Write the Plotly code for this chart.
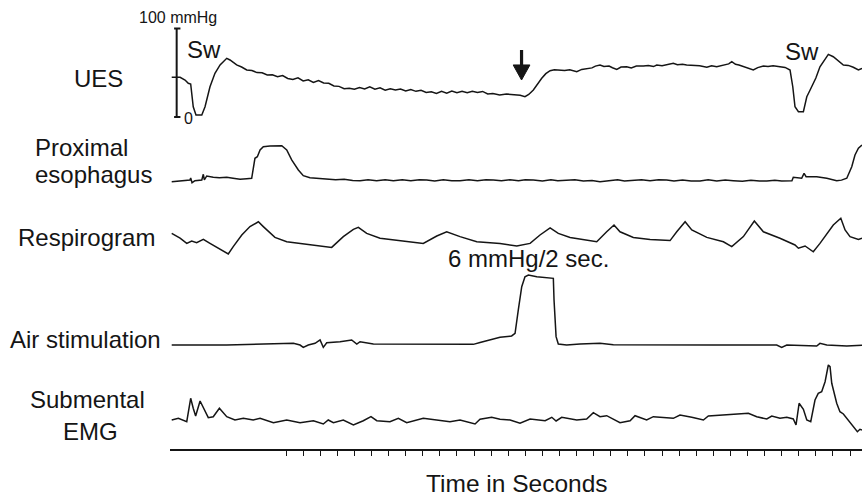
import plotly.graph_objects as go

# ---------------- data (time in seconds) ----------------
ues_t = [0.31, 0.80, 1.09, 1.28, 1.42, 1.57, 1.73, 2.07, 2.26, 2.55, 2.84, 3.14, 3.53, 3.72, 4.11, 4.4, 4.70,
         5.0, 5.3, 5.6, 5.9, 6.2, 6.5, 6.8, 7.1, 7.4, 7.7, 8.0, 8.3, 8.6, 8.9, 9.2, 9.5, 9.8, 10.1, 10.4, 10.7,
         11.0, 11.3, 11.6, 11.9, 12.2, 12.5, 12.8, 13.1, 13.4, 13.7, 14.0, 14.3, 14.6, 14.9, 15.2, 15.5, 15.8,
         16.1, 16.4, 16.7, 17.0, 17.3, 17.6, 17.9, 18.2, 18.5, 18.8, 19.1, 19.5, 19.9, 20.28, 20.7, 20.98, 21.2,
         21.47, 21.7, 21.96, 22.2, 22.45, 22.7, 23.03, 23.3, 23.6, 24.01, 24.3, 24.59, 24.9, 25.1, 25.37, 25.6,
         25.9, 26.1, 26.35, 26.6, 26.93, 27.2, 27.5, 27.91, 28.2, 28.5, 28.69, 29.0, 29.3, 29.66, 29.9, 30.2,
         30.44, 30.8, 31.2, 31.62, 31.9, 32.20, 32.6, 32.9, 33.08, 33.3, 33.5, 33.76, 34.0, 34.34, 34.6, 34.93,
         35.2, 35.5, 35.90, 36.2, 36.49, 36.65, 36.78, 36.98, 37.27, 37.47, 37.65, 37.85, 38.0, 38.24, 38.5,
         38.73, 39.02, 39.3, 39.61, 39.9, 40.19, 40.49, 40.70]
ues_mmhg = [44.9, 44.9, 41.8, 38.1, 37.3, 11.6, 2.3, 2.3, 11.6, 34.2, 49.4, 58.8, 66.3, 64.4, 58.8, 56.5, 53.1,
            52.5, 50.2, 50.0, 47.5, 47.8, 45.5, 46.8, 43.6, 42.5, 44.2, 40.8, 42.0, 39.0, 41.2, 38.5, 38.1, 35.0,
            34.6, 32.0, 32.6, 31.5, 33.4, 31.8, 34.0, 31.4, 32.9, 30.3, 32.0, 30.5, 31.5, 29.3, 31.0, 29.0, 30.2,
            27.8, 28.6, 26.7, 29.0, 27.0, 29.3, 27.5, 29.0, 27.4, 29.0, 27.8, 28.9, 26.0, 26.5, 24.9, 26.0, 25.6,
            24.5, 22.9, 25.5, 30.5, 37.0, 43.7, 49.0, 52.3, 53.3, 53.1, 52.5, 53.5, 51.2, 53.8, 55.0, 55.5, 57.5,
            58.8, 57.0, 57.5, 55.6, 53.8, 56.5, 56.8, 55.5, 57.5, 57.6, 58.3, 57.0, 58.8, 58.0, 59.5, 60.7, 59.0,
            59.5, 58.8, 58.8, 58.0, 56.2, 58.0, 56.8, 58.5, 60.0, 62.5, 59.5, 58.7, 56.8, 55.0, 53.1, 55.8, 57.6,
            57.0, 58.0, 56.8, 56.0, 53.1, 34.2, 11.6, 6.0, 6.0, 22.9, 30.0, 38.1, 44.0, 56.8, 64.0, 70.8, 68.1,
            63.5, 58.8, 58.3, 56.2, 53.1, 55.0]

prox_t = [0.31, 0.80, 1.38, 1.42, 1.50, 1.67, 2.07, 2.16, 2.22, 2.36, 2.74, 3.1, 3.53, 3.9, 4.31, 4.7, 4.99,
          5.18, 5.32, 5.48, 5.67, 6.06, 6.4, 6.75, 7.04, 7.33, 7.72, 8.01, 8.40, 8.9, 9.38, 9.9, 10.4, 10.9,
          11.33, 11.8, 12.3, 12.8, 13.28, 13.8, 14.3, 14.8, 15.23, 15.7, 16.2, 16.7, 17.18, 17.7, 18.2, 18.7,
          19.13, 19.6, 20.1, 20.6, 21.0, 21.47, 22.0, 22.5, 22.9, 23.42, 23.9, 24.4, 24.9, 25.37, 25.9, 26.4,
          26.8, 27.32, 27.8, 28.3, 28.8, 29.27, 29.7, 30.2, 30.7, 31.22, 31.7, 32.2, 32.7, 33.17, 33.7, 34.2,
          34.7, 35.13, 35.6, 36.0, 36.49, 36.6, 36.68, 37.17, 37.31, 37.43, 38.05, 38.64, 39.22, 39.5, 39.81,
          40.10, 40.29, 40.49, 40.70]
prox_mmhg = [3.7, 4.5, 5.7, 7.9, 2.6, 4.9, 5.7, 12.1, 5.7, 10.2, 8.7, 8.3, 8.7, 7.6, 6.4, 7.2, 7.6,
             30.2, 32.0, 39.6, 43.3, 44.1, 44.6, 44.4, 39.6, 28.3, 17.0, 10.5, 8.2, 7.5, 6.8, 5.9, 6.4, 5.0,
             4.9, 5.9, 4.7, 5.8, 4.9, 5.9, 4.8, 5.9, 5.7, 4.6, 5.8, 4.7, 4.9, 6.0, 4.8, 5.8,
             5.7, 4.7, 5.9, 4.8, 5.8, 5.7, 4.6, 5.8, 4.7, 4.9, 5.9, 4.5, 5.0, 3.7, 5.2, 5.8,
             4.6, 4.9, 6.0, 4.8, 5.9, 5.7, 4.6, 5.6, 4.5, 4.5, 5.8, 4.6, 5.6, 4.9, 4.3, 5.4,
             4.4, 4.5, 5.3, 4.4, 4.9, 4.8, 8.7, 7.6, 13.2, 9.4, 9.4, 7.6, 4.9, 5.5, 7.6,
             20.7, 33.9, 41.5, 45.2]

resp_t = [0.31, 0.80, 1.19, 1.48, 1.77, 2.16, 2.55, 3.14, 3.62, 3.91, 4.41, 4.89, 5.38, 5.67, 6.35, 7.04, 7.82,
          8.79, 9.67, 10.35, 10.94, 11.23, 11.72, 12.50, 13.67, 15.03, 15.82, 16.40, 17.18, 18.16, 19.52, 20.50,
          21.28, 21.86, 22.45, 22.93, 23.62, 24.59, 25.18, 25.76, 26.19, 26.54, 27.32, 28.30, 29.47, 29.86,
          30.35, 30.74, 31.62, 32.59, 33.08, 33.76, 34.40, 34.93, 35.90, 36.78, 36.98, 37.37, 37.85, 38.24,
          39.02, 39.46, 39.71, 40.00, 40.49, 40.70]
resp_au = [5.4, 4.2, 2.9, 3.5, 3.1, 3.9, 2.9, 1.4, 0.25, 2.1, 5.0, 7.1, 8.3, 7.1, 4.4, 3.3, 2.9,
           2.5, 1.9, 4.6, 6.4, 6.9, 5.4, 4.2, 3.6, 2.9, 4.75, 5.8, 4.6, 3.3, 2.9, 2.25,
           2.9, 5.0, 6.8, 5.4, 4.4, 3.75, 3.3, 5.8, 7.5, 5.8, 4.4, 3.9, 3.6, 5.8,
           8.3, 6.25, 4.4, 3.3, 2.1, 4.6, 8.5, 5.8, 4.2, 2.5, 1.7, 2.25, 0.8, 2.9,
           7.5, 9.2, 6.25, 4.6, 3.9, 4.2]

air_t = [0.31, 3.53, 7.43, 7.82, 8.01, 8.30, 8.70, 8.99, 9.18, 9.38, 10.16, 10.84, 11.14, 11.33, 12.11, 13.28,
         15.23, 17.96, 18.35, 18.94, 19.52, 20.20, 20.40, 20.59, 20.79, 20.98, 21.18, 21.67, 22.64, 22.68, 22.80,
         22.93, 23.42, 24.20, 25.37, 26.15, 28.10, 32.00, 35.71, 36.00, 36.30, 38.05, 38.24, 38.64, 39.81, 40.70]
air_mmhg = [0.04, 0.04, 0.19, 0.04, -0.16, 0.04, 0.19, 0.48, -0.16, 0.24, 0.33, 0.48, 0.13, 0.33, 0.13, 0.13,
            0.10, 0.10, 0.26, 0.48, 0.71, 0.83, 1.06, 3.09, 5.11, 5.98, 6.13, 5.98, 5.84, 3.96, 0.77,
            0.13, 0.04, 0.13, 0.19, 0.07, 0.04, 0.04, 0.04, -0.16, 0.04, -0.04, 0.19, 0.04, -0.04, 0.02]

emg_t = [0.31, 0.70, 1.19, 1.42, 1.57, 1.71, 1.97, 2.16, 2.45, 2.74, 3.10, 3.53, 4.01, 4.50, 5.08, 5.48, 6.26,
         7.04, 7.82, 8.60, 9.18, 9.47, 9.77, 10.35, 10.94, 11.52, 11.97, 12.31, 13.08, 13.57, 14.06, 15.03,
         16.01, 16.59, 17.18, 18.06, 18.35, 19.03, 19.52, 20.11, 20.69, 21.28, 22.16, 22.55, 22.80, 23.13,
         24.01, 24.59, 24.98, 25.37, 25.76, 26.54, 27.13, 27.42, 28.10, 28.49, 29.66, 30.05, 30.74, 31.42,
         31.71, 32.79, 33.56, 34.05, 34.54, 35.13, 35.42, 35.90, 36.30, 36.68, 36.84, 37.02, 37.27, 37.47,
         37.70, 37.95, 38.14, 38.34, 38.54, 38.73, 38.83, 38.93, 39.22, 39.41, 39.61, 39.90, 40.19, 40.43,
         40.58, 40.70]
emg_uv = [6.0, 6.85, 5.15, 16.85, 11.85, 8.0, 15.5, 11.85, 7.15, 7.65, 11.85, 7.65, 6.0, 6.85, 6.0, 6.85, 4.65,
          6.0, 4.65, 5.65, 4.0, 6.0, 4.65, 6.0, 3.5, 5.65, 7.65, 5.65, 5.15, 6.85, 4.65, 6.85,
          6.0, 5.15, 6.0, 4.0, 6.35, 7.35, 6.35, 6.0, 4.35, 6.5, 5.65, 7.35, 5.5, 7.35,
          6.0, 6.5, 9.65, 7.65, 8.15, 4.65, 5.65, 8.15, 6.0, 7.65, 6.85, 8.5, 7.35, 6.0,
          8.0, 8.5, 8.85, 9.35, 7.65, 6.5, 8.0, 6.85, 7.35, 6.5, 3.5, 14.35, 11.35, 6.0,
          5.15, 16.0, 19.35, 20.15, 25.15, 33.5, 32.65, 24.35, 14.35, 10.15, 9.0, 6.0, 2.65, 0.15,
          1.35, 1.0]

time_ticks = list(range(7, 41))
channel_names = ["UES", "Proximal esophagus", "Respirogram", "Air stimulation", "Submental EMG"]

# ---------------- layout helpers ----------------
W, H = 862, 497
FONT = "Liberation Sans, Arial, Helvetica, sans-serif"
INK = "#151515"


def px(x, y):
    return x / W, 1 - y / H


def ydomain(lo, hi, px_zero, px_per_unit):
    bottom = px_zero - lo * px_per_unit
    top = px_zero - hi * px_per_unit
    return [1 - bottom / H, 1 - top / H]


axes = {
    "yaxis": dict(range=[-5, 105], domain=ydomain(-5, 105, 117, 0.885)),
    "yaxis2": dict(range=[-5, 60], domain=ydomain(-5, 60, 185, 0.885)),
    "yaxis3": dict(range=[-1, 11], domain=ydomain(-1, 11, 255, 4)),
    "yaxis4": dict(range=[-1, 7], domain=ydomain(-1, 7, 345.5, 11.5)),
    "yaxis5": dict(range=[-2, 36], domain=ydomain(-2, 36, 432, 2)),
}

fig = go.Figure()
series = [(ues_t, ues_mmhg, "y"), (prox_t, prox_mmhg, "y2"), (resp_t, resp_au, "y3"),
          (air_t, air_mmhg, "y4"), (emg_t, emg_uv, "y5")]
for (t, v, ya), name in zip(series, channel_names):
    fig.add_trace(go.Scatter(x=t, y=v, yaxis=ya, xaxis="x", mode="lines", name=name,
                             line=dict(color=INK, width=1.5), hoverinfo="skip"))

layout = dict(
    width=W, height=H, margin=dict(l=0, r=0, t=0, b=0),
    paper_bgcolor="white", plot_bgcolor="white", showlegend=False,
    xaxis=dict(domain=[170 / W, 1], range=[0.21, 40.70], anchor="free", position=47 / H,
               showline=True, linecolor=INK, linewidth=1.5, ticks="outside", ticklen=5,
               tickwidth=1.2, tickcolor=INK, tickvals=time_ticks, showticklabels=False,
               showgrid=False, zeroline=False),
)
for k, spec in axes.items():
    layout[k] = dict(visible=False, anchor="x", showgrid=False, zeroline=False, fixedrange=True, **spec)
fig.update_layout(**layout)

# scale bar (100 mmHg) on UES axis
shapes = [
    dict(type="line", xref="x", yref="y", x0=0.60, x1=0.60, y0=0, y1=100, line=dict(color=INK, width=2)),
    dict(type="line", xref="x", yref="y", x0=0.45, x1=0.82, y0=100, y1=100, line=dict(color=INK, width=2)),
    dict(type="line", xref="x", yref="y", x0=0.45, x1=0.82, y0=0, y1=0, line=dict(color=INK, width=2)),
    # arrow marking air stimulation effect
    dict(type="line", xref="x", yref="y", x0=20.78, x1=20.78, y0=75.7, y1=57.0, line=dict(color=INK, width=3.2)),
    dict(type="path", xref="x", yref="y", path="M 20.29 58.8 L 21.27 58.8 L 20.78 41.8 Z",
         fillcolor=INK, line=dict(color=INK, width=1)),
]
fig.update_layout(shapes=shapes)

texts = [
    ("100 mmHg", 177.5, 17, "center", 16),
    ("0", 188.5, 118.5, "center", 16),
    ("Sw", 203.5, 49.5, "center", 24),
    ("Sw", 801.7, 51, "center", 24),
    ("UES", 98, 78, "center", 24),
    ("Proximal", 33, 147, "left", 24),
    ("esophagus", 33, 174, "left", 24),
    ("Respirogram", 86.5, 237.5, "center", 24),
    ("6 mmHg/2 sec.", 528, 258.5, "center", 24),
    ("Air stimulation", 85, 339.5, "center", 24),
    ("Submental", 87.5, 399.5, "center", 24),
    ("EMG", 90.5, 431, "center", 24),
    ("Time in Seconds", 516.5, 483, "center", 24.5),
]
anns = []
for txt, x, y, anchor, size in texts:
    fx, fy = px(x, y)
    anns.append(dict(text=txt, x=fx, y=fy, xref="paper", yref="paper", xanchor=anchor, yanchor="middle",
                     showarrow=False, font=dict(family=FONT, size=size, color=INK)))
fig.update_layout(annotations=anns)

fig.write_html("out.html")
